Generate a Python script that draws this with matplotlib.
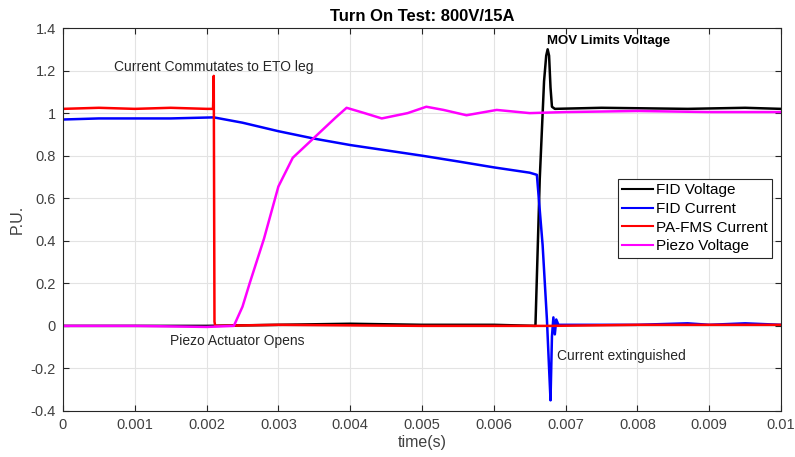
import matplotlib
matplotlib.use("Agg")
import matplotlib.pyplot as plt

plt.rcParams['font.family'] = ['Liberation Sans', 'DejaVu Sans']

# ---- data ----
fid_v_t = [0.0, 0.0010, 0.0020, 0.0030, 0.0040, 0.0050, 0.0060, 0.00658,
           0.00664, 0.00670, 0.00673, 0.00675, 0.00677, 0.00679, 0.00681,
           0.00685, 0.0075, 0.0087, 0.0095, 0.0100]
fid_v = [0.0, 0.0, 0.0, 0.005, 0.01, 0.005, 0.005, 0.0,
         0.69, 1.15, 1.27, 1.30, 1.27, 1.12, 1.03,
         1.02, 1.025, 1.02, 1.025, 1.02]

fid_i_t = [0.0, 0.0005, 0.0010, 0.0015, 0.0021, 0.0025, 0.0030, 0.0035,
           0.0040, 0.0045, 0.0050, 0.0055, 0.0060, 0.0065, 0.00660,
           0.00668, 0.00674, 0.00677, 0.00679, 0.00681, 0.00683, 0.00685,
           0.00687, 0.0069, 0.0080, 0.0087, 0.0090, 0.0095, 0.0100]
fid_i = [0.97, 0.975, 0.975, 0.975, 0.98, 0.955, 0.915, 0.88,
         0.85, 0.825, 0.80, 0.773, 0.745, 0.72, 0.71,
         0.38, 0.03, -0.2, -0.35, -0.05, 0.04, -0.04,
         0.03, 0.005, 0.005, 0.012, 0.005, 0.012, 0.005]

pa_t = [0.0, 0.0005, 0.0010, 0.0015, 0.0020, 0.00209, 0.00210, 0.00211,
        0.00212, 0.0030, 0.0050, 0.0068, 0.0080, 0.0100]
pa = [1.02, 1.025, 1.02, 1.025, 1.02, 1.02, 1.175, 0.02,
      0.0, 0.005, 0.0, 0.0, 0.005, 0.005]

pz_t = [0.0, 0.0010, 0.0020, 0.00238, 0.0025, 0.0026, 0.0028, 0.0030,
        0.0032, 0.0035, 0.0038, 0.00395, 0.0042, 0.00444, 0.0048, 0.00506,
        0.0053, 0.00562, 0.00604, 0.0065, 0.0070, 0.0080, 0.0090, 0.0100]
pz = [0.0, 0.0, -0.005, 0.0, 0.09, 0.2, 0.41, 0.655,
      0.79, 0.885, 0.98, 1.025, 1.0, 0.975, 1.0, 1.03,
      1.015, 0.99, 1.015, 1.0, 1.005, 1.01, 1.005, 1.005]

series_names = ['FID Voltage', 'FID Current', 'PA-FMS Current', 'Piezo Voltage']
x_ticks = [0, 0.001, 0.002, 0.003, 0.004, 0.005, 0.006, 0.007, 0.008, 0.009, 0.01]
x_tick_labels = ['0', '0.001', '0.002', '0.003', '0.004', '0.005', '0.006',
                 '0.007', '0.008', '0.009', '0.01']
y_ticks = [-0.4, -0.2, 0, 0.2, 0.4, 0.6, 0.8, 1.0, 1.2, 1.4]
y_tick_labels = ['-0.4', '-0.2', '0', '0.2', '0.4', '0.6', '0.8', '1', '1.2', '1.4']

# ---- figure ----
fig = plt.figure(figsize=(7.95, 4.57), dpi=100)
ax = fig.add_axes([0.0792, 0.1007, 0.9032, 0.8380])

lw = 1.8
ax.plot(fid_v_t, fid_v, color='black', lw=lw, label=series_names[0])
ax.plot(fid_i_t, fid_i, color='#0000ff', lw=lw, label=series_names[1])
ax.plot(pa_t, pa, color='#ff0000', lw=lw, label=series_names[2])
ax.plot(pz_t, pz, color='#ff00ff', lw=lw, label=series_names[3])

ax.set_xlim(0, 0.01)
ax.set_ylim(-0.4, 1.4)
ax.set_xticks(x_ticks)
ax.set_xticklabels(x_tick_labels)
ax.set_yticks(y_ticks)
ax.set_yticklabels(y_tick_labels)

axc = '#404040'
for s in ax.spines.values():
    s.set_color('#262626')
    s.set_linewidth(0.8)
ax.tick_params(direction='in', top=True, right=True, length=4, width=0.8,
               color='#262626', labelcolor=axc, labelsize=10.5, pad=5)
ax.grid(True, color='#e3e3e3', lw=0.8)
ax.set_axisbelow(True)

ax.set_title('Turn On Test: 800V/15A', fontsize=12, fontweight='bold', pad=5)
ax.set_xlabel('time(s)', fontsize=11.5, color=axc, labelpad=2)
ax.set_ylabel('P.U.', fontsize=11.5, color=axc, labelpad=4)

ax.text(0.00071, 1.215, 'Current Commutates to ETO leg', fontsize=10, color='#262626',
        va='center', ha='left')
ax.text(0.00674, 1.338, 'MOV Limits Voltage', fontsize=9.5, fontweight='bold',
        color='black', va='center', ha='left')
ax.text(0.00149, -0.07, 'Piezo Actuator Opens', fontsize=10, color='#262626',
        va='center', ha='left')
ax.text(0.00688, -0.14, 'Current extinguished', fontsize=10, color='#262626',
        va='center', ha='left')

leg = ax.legend(loc='upper right', bbox_to_anchor=(0.987, 0.606),
                borderaxespad=0, fontsize=11, fancybox=False, framealpha=1,
                edgecolor='#262626', handlelength=2.0, handletextpad=0.2,
                labelspacing=0.31, borderpad=0.28)
leg.get_frame().set_linewidth(0.8)
for l in leg.get_lines():
    l.set_linewidth(1.5)

fig.savefig('out.png', dpi=100)
